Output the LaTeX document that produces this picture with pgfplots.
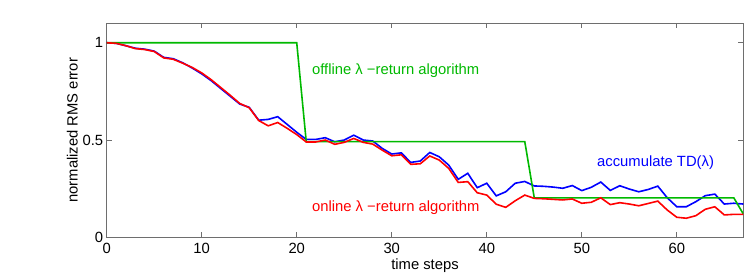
\documentclass[border=0pt]{standalone}
\usepackage{pgfplots}
\pgfplotsset{compat=1.18}
\usepackage{pgfplotstable}
\usepackage{fontspec}
\setmainfont{Liberation Sans}
\definecolor{mblue}{RGB}{0,0,255}
\definecolor{mred}{RGB}{255,0,0}
\definecolor{mgreen}{RGB}{0,185,0}
\definecolor{axgray}{RGB}{110,110,110}
\pgfplotstableread{
x red blue
0 1.000 1.000
1 0.997 0.997
2 0.985 0.985
3 0.970 0.972
4 0.965 0.967
5 0.955 0.957
6 0.922 0.925
7 0.915 0.918
8 0.895 0.897
9 0.873 0.870
10 0.845 0.840
11 0.810 0.805
12 0.770 0.765
13 0.730 0.725
14 0.688 0.685
15 0.666 0.668
16 0.600 0.602
17 0.573 0.606
18 0.590 0.620
19 0.560 0.580
20 0.528 0.540
21 0.490 0.503
22 0.490 0.503
23 0.500 0.512
24 0.478 0.491
25 0.488 0.500
26 0.508 0.525
27 0.488 0.500
28 0.479 0.495
29 0.448 0.457
30 0.419 0.428
31 0.424 0.434
32 0.375 0.385
33 0.378 0.392
34 0.418 0.436
35 0.397 0.414
36 0.354 0.371
37 0.282 0.298
38 0.286 0.329
39 0.229 0.255
40 0.217 0.278
41 0.170 0.213
42 0.154 0.234
43 0.188 0.278
44 0.217 0.287
45 0.200 0.264
46 0.198 0.262
47 0.195 0.258
48 0.192 0.252
49 0.197 0.266
50 0.175 0.240
51 0.180 0.257
52 0.203 0.284
53 0.168 0.241
54 0.178 0.265
55 0.171 0.248
56 0.162 0.234
57 0.174 0.246
58 0.186 0.263
59 0.140 0.203
60 0.103 0.157
61 0.098 0.157
62 0.111 0.183
63 0.144 0.214
64 0.157 0.222
65 0.115 0.171
66 0.118 0.175
67 0.118 0.171
}\datatab
\pgfplotstableread{
x g
0 1.0
20 1.0
21 0.492
44 0.492
45 0.203
66 0.203
67 0.120
}\offtab
\begin{document}
\begin{tikzpicture}
\begin{axis}[
  width=636.6pt, height=214pt, scale only axis,
  xmin=0, xmax=67, ymin=0, ymax=1.1,
  xtick={0,10,...,60}, ytick={0,0.5,1},
  tick align=inside, major tick length=5pt,
  axis line style={axgray, line width=0.8pt},
  tick style={axgray, line width=0.8pt},
  /pgf/number format/assume math mode=true,
  ticklabel style={font=\fontsize{14.8}{17}\selectfont},
  xticklabel style={yshift=-2pt},
  label style={font=\fontsize{14.8}{17}\selectfont},
  xlabel={time steps},
  ylabel={normalized RMS error},
  xlabel style={yshift=1pt},
  ylabel style={yshift=-2pt},
  every axis plot/.append style={line width=1.6pt},
]
\addplot[mblue, no markers] table[x=x, y=blue] {\datatab};
\addplot[mgreen, no markers] table[x=x, y=g] {\offtab};
\addplot[mred, no markers] table[x=x, y=red] {\datatab};
\node[anchor=west, inner sep=0pt, text=mgreen, font=\fontsize{14.8}{17}\selectfont] at (axis cs:21.6,0.856) {offline λ −return algorithm};
\node[anchor=west, inner sep=0pt, text=mblue, font=\fontsize{14.8}{17}\selectfont] at (axis cs:51.6,0.385) {accumulate TD(λ)};
\node[anchor=west, inner sep=0pt, text=mred, font=\fontsize{14.8}{17}\selectfont] at (axis cs:21.6,0.154) {online λ −return algorithm};
\end{axis}
\path ([shift={(-106.7pt,-35.7pt)}]current axis.south west) rectangle ([shift={(10.7pt,23.3pt)}]current axis.north east);
\end{tikzpicture}
\end{document}
